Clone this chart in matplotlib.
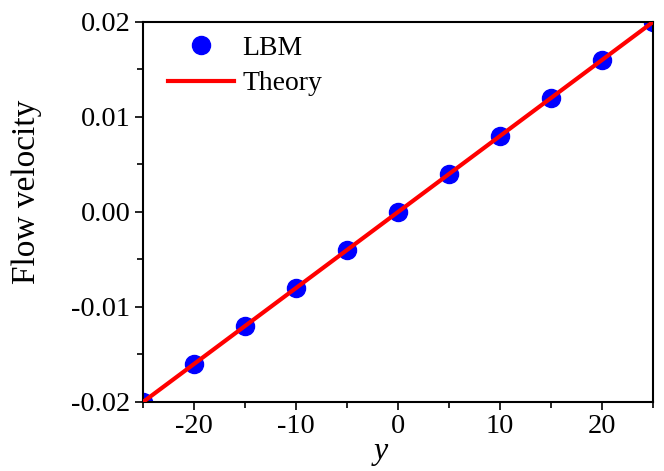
import matplotlib
matplotlib.use("Agg")
import matplotlib.pyplot as plt
from matplotlib.ticker import MultipleLocator

plt.rcParams['font.family'] = ['Liberation Serif', 'DejaVu Serif']
plt.rcParams['mathtext.fontset'] = 'custom'
plt.rcParams['mathtext.it'] = 'Liberation Serif:italic'
plt.rcParams['axes.unicode_minus'] = False

y_lbm = [-25, -20, -15, -10, -5, 0, 5, 10, 15, 20, 25]
v_lbm = [-0.020, -0.016, -0.012, -0.008, -0.004, 0.000, 0.004, 0.008, 0.012, 0.016, 0.020]
y_theory = [-25, 25]
v_theory = [-0.020, 0.020]

fig = plt.figure(figsize=(6.64, 4.71), dpi=100)
ax = fig.add_axes([0.2154, 0.1465, 0.768, 0.8068])

ax.plot(y_lbm, v_lbm, 'o', color='#0000ff', markersize=13, label='LBM', zorder=2, clip_on=True)
ax.plot(y_theory, v_theory, '-', color='#ff0000', linewidth=3, label='Theory', zorder=3)

ax.set_xlim(-25, 25)
ax.set_ylim(-0.02, 0.02)
ax.xaxis.set_major_locator(MultipleLocator(10))
ax.xaxis.set_minor_locator(MultipleLocator(5))
ax.yaxis.set_major_locator(MultipleLocator(0.01))
ax.yaxis.set_minor_locator(MultipleLocator(0.005))
ax.yaxis.set_major_formatter(plt.FuncFormatter(lambda v, p: f"{v:.2f}"))

ax.tick_params(which='both', direction='out', top=False, right=False, labelsize=20.5, width=1.2)
ax.tick_params(which='major', length=6, pad=3)
ax.tick_params(which='minor', length=4)
for s in ax.spines.values():
    s.set_linewidth(1.5)

ax.set_xlabel('$y$', fontsize=23)
ax.xaxis.set_label_coords(0.465, -0.098)
ax.set_ylabel('Flow velocity', fontsize=24)
ax.yaxis.set_label_coords(-0.198, 0.553)

ax.legend(loc='upper left', frameon=False, fontsize=20, handlelength=2.4,
          handletextpad=0.3, borderaxespad=0.3, labelspacing=0.35,
          bbox_to_anchor=(0.01, 1.015))

fig.savefig('out.png', dpi=100)
